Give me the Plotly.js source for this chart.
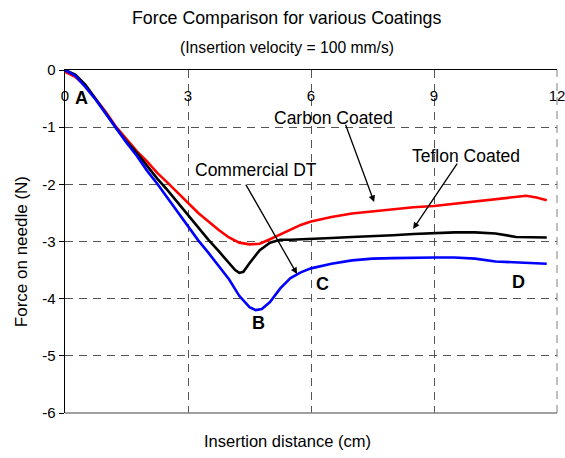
<!DOCTYPE html>
<html>
<head>
<meta charset="utf-8">
<script src="https://cdn.plot.ly/plotly-3.0.1.min.js"></script>
<style>html,body{margin:0;padding:0;background:#fff;}#chart{width:565px;height:458px;}</style>
</head>
<body>
<div id="chart"></div>
<script>
// Carbon Coated (red)
const carbonX = [0, 0.25, 0.5, 0.75, 1, 1.25, 1.5, 1.75, 2, 2.25, 2.5, 2.75, 3, 3.25, 3.5, 3.75, 4, 4.25, 4.5, 4.75, 5, 5.25, 5.5, 5.75, 6, 6.5, 7, 7.5, 8, 8.5, 9, 9.5, 10, 10.5, 11, 11.25, 11.5, 11.75];
const carbonY = [-0.03, -0.12, -0.28, -0.5, -0.74, -1.0, -1.22, -1.42, -1.6, -1.8, -1.97, -2.15, -2.33, -2.5, -2.65, -2.8, -2.93, -3.02, -3.05, -3.04, -2.96, -2.88, -2.79, -2.71, -2.65, -2.57, -2.51, -2.47, -2.43, -2.4, -2.38, -2.34, -2.3, -2.25, -2.21, -2.2, -2.23, -2.28];
// Teflon Coated (black)
const teflonX = [0, 0.25, 0.5, 0.75, 1, 1.25, 1.5, 1.75, 2, 2.25, 2.5, 2.75, 3, 3.25, 3.5, 3.75, 4, 4.15, 4.25, 4.35, 4.5, 4.75, 5, 5.25, 5.5, 6, 6.5, 7, 7.5, 8, 8.5, 9, 9.5, 10, 10.5, 11, 11.5, 11.75];
const teflonY = [0, -0.08, -0.26, -0.5, -0.76, -1.02, -1.25, -1.45, -1.68, -1.9, -2.1, -2.32, -2.54, -2.76, -2.97, -3.17, -3.38, -3.5, -3.55, -3.53, -3.38, -3.15, -3.02, -2.97, -2.97, -2.96, -2.94, -2.92, -2.91, -2.89, -2.87, -2.85, -2.84, -2.84, -2.86, -2.92, -2.93, -2.93];
// Commercial DT (blue)
const commercialX = [0, 0.25, 0.5, 0.75, 1, 1.25, 1.5, 1.75, 2, 2.25, 2.5, 2.75, 3, 3.25, 3.5, 3.75, 4, 4.25, 4.5, 4.65, 4.8, 5, 5.25, 5.5, 5.75, 6, 6.5, 7, 7.5, 8, 8.5, 9, 9.5, 10, 10.5, 11, 11.5, 11.75];
const commercialY = [0, -0.1, -0.3, -0.52, -0.77, -1.03, -1.27, -1.5, -1.76, -1.99, -2.24, -2.5, -2.75, -2.98, -3.2, -3.43, -3.66, -3.95, -4.15, -4.2, -4.18, -4.06, -3.82, -3.64, -3.54, -3.47, -3.39, -3.33, -3.3, -3.29, -3.28, -3.28, -3.28, -3.3, -3.35, -3.37, -3.38, -3.39];

const xTicks = [0, 3, 6, 9, 12];
const yTicks = [0, -1, -2, -3, -4, -5, -6];

// Point labels
const pointLabels = ['A', 'B', 'C', 'D'];
const pointX = [0.41, 4.72, 6.27, 11.05];
const pointY = [-0.49, -4.42, -3.75, -3.71];

// Callouts: text, text position, arrow tail, arrow head
const calloutText = ['Carbon Coated', 'Commercial DT', 'Teflon Coated'];
const calloutTextX = [6.54, 4.67, 9.78];
const calloutTextY = [-0.84, -1.75, -1.5];
const arrowTailX = [6.83, 4.39, 9.59];
const arrowTailY = [-0.93, -1.98, -1.61];
const arrowHeadX = [7.54, 5.66, 8.49];
const arrowHeadY = [-2.31, -3.57, -2.78];

const titleText = 'Force Comparison for various Coatings';
const subtitleText = '(Insertion velocity = 100 mm/s)';
const xTitle = 'Insertion distance (cm)';
const yTitle = 'Force on needle (N)';

const FONT = 'Liberation Sans, Arial, sans-serif';

const traces = [
  {x: carbonX, y: carbonY, mode: 'lines', line: {color: '#ff0000', width: 2.6}, name: 'Carbon Coated'},
  {x: teflonX, y: teflonY, mode: 'lines', line: {color: '#000000', width: 2.6}, name: 'Teflon Coated'},
  {x: commercialX, y: commercialY, mode: 'lines', line: {color: '#0000ff', width: 2.6}, name: 'Commercial DT'}
];

const annotations = [];
pointLabels.forEach((t, i) => annotations.push({
  x: pointX[i], y: pointY[i], xref: 'x', yref: 'y', text: '<b>' + t + '</b>',
  showarrow: false, font: {family: FONT, size: 18, color: '#000'}
}));
calloutText.forEach((t, i) => {
  annotations.push({
    x: calloutTextX[i], y: calloutTextY[i], xref: 'x', yref: 'y', text: t,
    showarrow: false, font: {family: FONT, size: 17.5, color: '#000'}
  });
  annotations.push({
    x: arrowHeadX[i], y: arrowHeadY[i], xref: 'x', yref: 'y',
    ax: arrowTailX[i], ay: arrowTailY[i], axref: 'x', ayref: 'y',
    text: '', showarrow: true, arrowhead: 2, arrowsize: 1, arrowwidth: 1.3, arrowcolor: '#000',
    standoff: 0, startstandoff: 0
  });
});
annotations.push(
  {xref: 'paper', yref: 'paper', x: 0.451, y: 1.1516, xanchor: 'center', yanchor: 'middle',
   text: titleText, showarrow: false, font: {family: FONT, size: 17.8, color: '#000'}},
  {xref: 'paper', yref: 'paper', x: 0.451, y: 1.067, xanchor: 'center', yanchor: 'middle',
   text: subtitleText, showarrow: false, font: {family: FONT, size: 15.7, color: '#000'}},
  {xref: 'paper', yref: 'paper', x: 0.453, y: -0.0816, xanchor: 'center', yanchor: 'middle',
   text: xTitle, showarrow: false, font: {family: FONT, size: 16.5, color: '#000'}},
  {xref: 'paper', yref: 'paper', x: -0.0894, y: 0.469, xanchor: 'center', yanchor: 'middle', textangle: -90,
   text: yTitle, showarrow: false, font: {family: FONT, size: 17, color: '#000'}}
);

const layout = {
  width: 565, height: 458,
  margin: {l: 65, r: 8, t: 70, b: 45},
  paper_bgcolor: '#fff', plot_bgcolor: '#fff',
  showlegend: false,
  font: {family: FONT, size: 14, color: '#000'},
  xaxis: {
    range: [0, 12], side: 'top', tickvals: xTicks, ticktext: xTicks.map(String),
    ticklabelposition: 'inside', ticklabeloverflow: 'allow', ticks: '', ticklabelstandoff: 20,
    showline: true, linecolor: '#000', linewidth: 1.5,
    showgrid: true, gridcolor: '#555555', griddash: '8px,6px', gridwidth: 1,
    zeroline: false, tickfont: {family: FONT, size: 15, color: '#000'}
  },
  yaxis: {
    range: [-6, 0], tickvals: yTicks, ticktext: yTicks.map(String),
    ticks: 'outside', ticklen: 5, tickcolor: '#000', ticklabeloverflow: 'allow',
    showline: true, linecolor: '#000', linewidth: 1.5,
    showgrid: true, gridcolor: '#555555', griddash: '8px,6px', gridwidth: 1,
    zeroline: false, tickfont: {family: FONT, size: 15, color: '#000'}
  },
  shapes: [
    {type: 'line', xref: 'paper', yref: 'paper', x0: 0, x1: 1, y0: 0, y1: 0, line: {color: '#808080', width: 1.5}},
    {type: 'line', xref: 'paper', yref: 'paper', x0: 1, x1: 1, y0: 0, y1: 1, line: {color: '#808080', width: 1, dash: '8px,6px'}}
  ],
  annotations: annotations
};

Plotly.newPlot('chart', traces, layout, {displayModeBar: false, staticPlot: true});
</script>
</body>
</html>
